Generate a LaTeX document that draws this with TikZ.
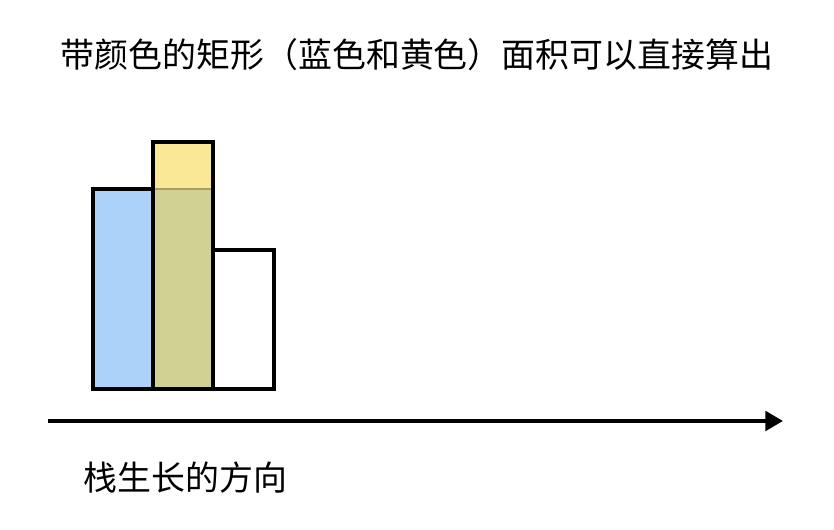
\documentclass[tikz,border=0pt]{standalone}
\usepackage{fontspec}
\usepackage{xcolor}
\setmainfont{Noto Sans CJK SC}
\usetikzlibrary{arrows.meta}
\definecolor{barblue}{RGB}{173,210,250}
\definecolor{baryellow}{RGB}{245,209,45}
\definecolor{overlapline}{RGB}{170,160,100}
\tikzset{
  bar/.style={draw=black,line width=2.3pt},
  label text/.style={font=\fontsize{19.3}{23}\selectfont,inner sep=0pt},
}

\begin{document}
\begin{tikzpicture}[thick,scale=1]
            \useasboundingbox (0,0) rectangle (16.68,10.6);
            \fill[barblue] (1.86,2.82) rectangle (4.26,6.82);
            \fill[baryellow,opacity=0.5] (3.06,2.82) rectangle (4.26,7.76);
            \draw[overlapline,line width=1pt] (3.06,6.82)--(4.26,6.82);
            \draw[bar] (1.86,2.82) rectangle (3.06,6.82);
            \draw[bar] (3.06,2.82) rectangle (4.26,7.76);
            \draw[bar] (4.26,2.82) rectangle (5.48,5.6);
            \coordinate (start) at (0.96,2.18);
            \coordinate (end) at (15.66,2.18);
            \draw[line width=2.3pt,-{Triangle[length=10pt,width=11pt]}] (start)--(end);
            \node[label text] (title) at (8.34,9.5) {带颜色的矩形（蓝色和黄色）面积可以直接算出};
            \node[label text,anchor=west] (dir) at (1.66,1.04) {栈生长的方向};
             \end{tikzpicture}
\end{document}
